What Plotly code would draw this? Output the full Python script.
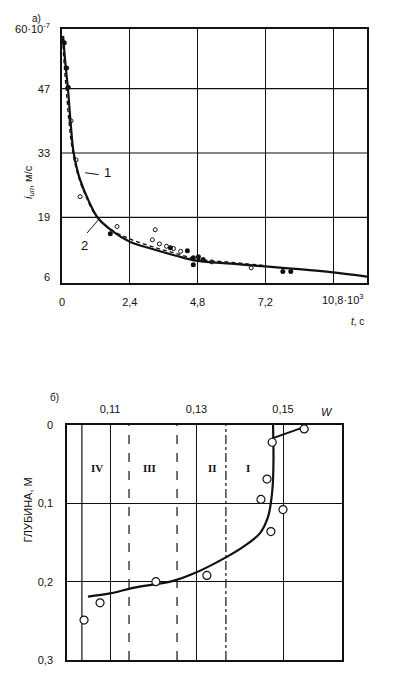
import plotly.graph_objects as go

# ---------------- Panel a) : infiltration rate vs time ----------------
t_curve1 = [0.04, 0.12, 0.21, 0.30, 0.39, 0.46, 0.64, 0.93, 1.28, 1.81, 2.4, 3.2, 4.0, 4.8, 6.0, 7.2, 8.4, 9.6, 10.8]
i_curve1 = [58.5, 52.5, 47.0, 40.0, 34.0, 31.5, 27.2, 22.8, 18.8, 15.9, 13.7, 12.1, 10.7, 9.5, 8.9, 8.3, 7.7, 7.0, 6.1]

t_curve2 = [0.02, 0.08, 0.16, 0.26, 0.36, 0.55, 0.85, 1.20, 1.70, 2.4, 3.2, 4.0, 4.8, 6.0, 7.2]
i_curve2 = [58.0, 52.0, 46.0, 39.0, 34.0, 28.5, 23.5, 19.3, 16.5, 14.3, 12.6, 11.2, 9.9, 9.2, 8.5]

t_filled = [0.08, 0.16, 0.22, 1.71, 3.84, 4.44, 4.65, 4.83, 4.65, 5.0, 7.82, 8.1]
i_filled = [57.0, 51.5, 47.3, 15.4, 12.4, 11.7, 10.2, 10.4, 8.7, 9.8, 7.2, 7.2]

t_open = [0.32, 0.5, 0.64, 1.95, 3.2, 3.3, 3.45, 3.7, 3.95, 4.2, 5.3, 6.7]
i_open = [40.0, 31.5, 23.5, 17.0, 14.1, 16.3, 13.2, 12.7, 12.2, 11.6, 9.3, 8.0]

t_ticks = [0, 2.4, 4.8, 7.2, 9.6]
t_ticktext = ["0", "2,4", "4,8", "7,2", " "]
i_ticks = [6, 19, 33, 47, 60]
i_ticktext = ["6", "19", "33", "47", "60·10<sup>-7</sup>"]
i_grid = [19, 33, 47]

# ---------------- Panel б) : moisture vs depth ----------------
W_curve = [0.1477, 0.1478, 0.1476, 0.1472, 0.1465, 0.1447, 0.1412, 0.1371, 0.1292, 0.1246, 0.1153, 0.1100, 0.1049]
d_curve = [0.000, 0.045, 0.079, 0.099, 0.118, 0.138, 0.154, 0.168, 0.190, 0.199, 0.208, 0.215, 0.219]

W_seg = [0.1475, 0.1542]
d_seg = [0.017, 0.004]

W_pts = [0.1549, 0.1475, 0.1463, 0.1449, 0.1500, 0.1472, 0.1324, 0.1206, 0.1077, 0.1040]
d_pts = [0.005, 0.022, 0.069, 0.095, 0.108, 0.136, 0.192, 0.200, 0.227, 0.249]

W_ticks = [0.11, 0.13, 0.15]
W_ticktext = ["0,11", "0,13", "0,15"]
d_ticks = [0, 0.1, 0.2, 0.3]
d_ticktext = ["0", "0,1", "0,2", "0,3"]

zone_W = [0.1035, 0.1144, 0.1255, 0.1368]
zone_dash = ["solid", "dash", "dash", "dashdot"]
zone_names = ["IV", "III", "II", "I"]
zone_label_W = [0.1070, 0.1192, 0.1336, 0.1419]
zone_label_d = 0.055

W0 = 0.11 - 43 / 4325
W1 = 0.15 + 59 / 4325

FONT = "Liberation Sans"
INK = "#111111"

fig = go.Figure()

# panel a traces
fig.add_trace(go.Scatter(x=t_curve2, y=i_curve2, mode="lines",
                         line=dict(color=INK, width=1.3, dash="4px,3px", shape="spline"),
                         xaxis="x", yaxis="y"))
fig.add_trace(go.Scatter(x=t_curve1, y=i_curve1, mode="lines",
                         line=dict(color=INK, width=2.2, shape="spline"),
                         xaxis="x", yaxis="y"))
fig.add_trace(go.Scatter(x=t_open, y=i_open, mode="markers",
                         marker=dict(symbol="circle-open", size=4, color=INK, line=dict(width=1)),
                         xaxis="x", yaxis="y"))
fig.add_trace(go.Scatter(x=t_filled, y=i_filled, mode="markers",
                         marker=dict(symbol="circle", size=5, color=INK),
                         xaxis="x", yaxis="y"))

# panel b traces
fig.add_trace(go.Scatter(x=W_curve, y=d_curve, mode="lines",
                         line=dict(color=INK, width=2.2, shape="spline"),
                         xaxis="x2", yaxis="y2"))
fig.add_trace(go.Scatter(x=W_seg, y=d_seg, mode="lines",
                         line=dict(color=INK, width=2.0),
                         xaxis="x2", yaxis="y2"))
fig.add_trace(go.Scatter(x=W_pts, y=d_pts, mode="markers",
                         marker=dict(symbol="circle", size=8, color="white",
                                     line=dict(color=INK, width=1.2)),
                         xaxis="x2", yaxis="y2"))

shapes = []
for g in i_grid:
    shapes.append(dict(type="line", xref="x domain", x0=0, x1=1, yref="y", y0=g, y1=g,
                       line=dict(color=INK, width=1.2), layer="below"))
for w, ds in zip(zone_W, zone_dash):
    shapes.append(dict(type="line", xref="x2", x0=w, x1=w, yref="y2 domain", y0=0, y1=1,
                       line=dict(color=INK, width=1.2, dash=ds), layer="below"))
# leader lines for curve labels
shapes.append(dict(type="line", xref="x", yref="y", x0=0.82, y0=28.7, x1=1.30, y1=28.3,
                   line=dict(color=INK, width=1)))
shapes.append(dict(type="line", xref="x", yref="y", x0=0.89, y0=15.6, x1=1.35, y1=18.9,
                   line=dict(color=INK, width=1)))

annotations = [
    dict(text="а)", x=30 / 397, y=1 - 11 / 674, xref="paper", yref="paper", showarrow=False,
         font=dict(size=10, family=FONT, color=INK)),
    dict(text="б)", x=48 / 397, y=1 - 397 / 674, xref="paper", yref="paper", showarrow=False,
         font=dict(size=10, family=FONT, color=INK)),
    dict(text="1", x=1.62, y=28.7, xref="x", yref="y", showarrow=False,
         font=dict(size=13, family=FONT, color=INK)),
    dict(text="2", x=0.80, y=12.8, xref="x", yref="y", showarrow=False,
         font=dict(size=13, family=FONT, color=INK)),
    dict(text="10,8·10<sup>3</sup>", x=366 / 397, y=1 - 299 / 674, xref="paper", yref="paper",
         xanchor="right", showarrow=False, font=dict(size=11, family=FONT, color=INK)),
    dict(text="<i>t</i>, с", x=366 / 397, y=1 - 322 / 674, xref="paper", yref="paper",
         xanchor="right", showarrow=False, font=dict(size=10, family=FONT, color=INK)),
    dict(text="<i>i<sub>ип</sub></i>, м/с", x=20 / 397, y=1 - 163 / 674, xref="paper", yref="paper",
         textangle=-90, showarrow=False, font=dict(size=11, family=FONT, color=INK)),
    dict(text="ГЛУБИНА, М", x=19 / 397, y=1 - 545 / 674, xref="paper", yref="paper",
         textangle=-90, showarrow=False, font=dict(size=11, family=FONT, color=INK)),
    dict(text="<i>W</i>", x=335 / 397, y=1 - 412 / 674, xref="paper", yref="paper",
         showarrow=False, font=dict(size=11, family=FONT, color=INK)),
]
for name, w in zip(zone_names, zone_label_W):
    annotations.append(dict(text="<b>" + name + "</b>", x=w, y=zone_label_d, xref="x2", yref="y2",
                            showarrow=False, font=dict(size=11, family="Liberation Serif", color=INK)))

axis_common = dict(showline=True, mirror=True, linecolor=INK, linewidth=1.5, zeroline=False,
                   ticks="", tickfont=dict(size=11, family=FONT, color=INK),
                   gridcolor=INK, gridwidth=1.2, fixedrange=True)

fig.update_layout(
    width=397, height=674, margin=dict(l=0, r=0, t=0, b=0, autoexpand=False),
    showlegend=False, paper_bgcolor="white", plot_bgcolor="white",
    xaxis=dict(domain=[62 / 397, 367 / 397], range=[0, 10.8], anchor="y",
               tickmode="array", tickvals=t_ticks, ticktext=t_ticktext, showgrid=True,
               ticklabelstandoff=8, **axis_common),
    yaxis=dict(domain=[1 - 283 / 674, 1 - 29 / 674], range=[4.7, 60], anchor="x",
               tickmode="array", tickvals=i_ticks, ticktext=i_ticktext, showgrid=False,
               ticklabelstandoff=8, **axis_common),
    xaxis2=dict(domain=[67 / 397, 342 / 397], range=[W0, W1], anchor="y2", side="top",
                tickmode="array", tickvals=W_ticks, ticktext=W_ticktext, showgrid=True,
                ticklabelstandoff=6, **axis_common),
    yaxis2=dict(domain=[1 - 660 / 674, 1 - 425 / 674], range=[0.3, 0], anchor="x2",
                tickmode="array", tickvals=d_ticks, ticktext=d_ticktext, showgrid=True,
                ticklabelstandoff=10, **axis_common),
    shapes=shapes, annotations=annotations,
)

fig.write_html("out.html", config={"displayModeBar": False},
               post_script="document.body.style.margin='0px';document.body.style.overflow='hidden';")
